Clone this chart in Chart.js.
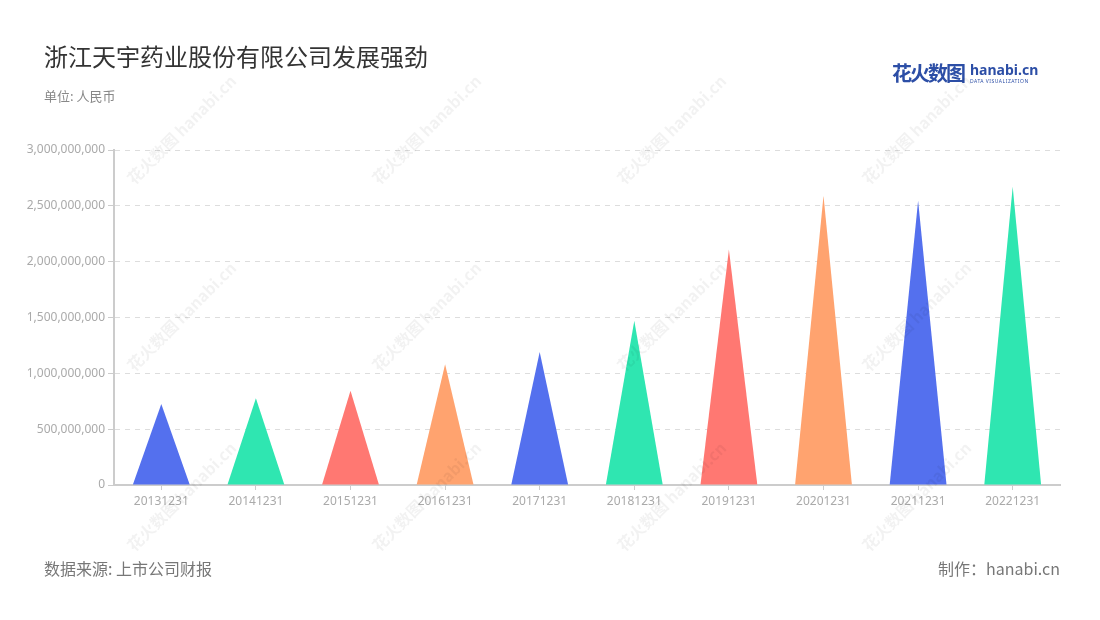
<!DOCTYPE html>
<html>
<head>
<meta charset="utf-8">
<script src="https://cdn.jsdelivr.net/npm/chart.js@4/dist/chart.umd.min.js"></script>
<style>
  body { margin: 0; background: #fff; font-family: "Noto Sans", "Noto Sans CJK SC", sans-serif; }
  #wrap { position: relative; width: 1100px; height: 620px; overflow: hidden; }
  #chart { position: absolute; left: 0; top: 0; }
  .title { position: absolute; left: 44px; top: 38px; font-size: 24px; color: #333; font-family: "Noto Sans CJK SC", sans-serif; }
  .unit { position: absolute; left: 44px; top: 86px; font-size: 13px; color: #888; font-family: "Noto Sans CJK SC", sans-serif; }
  .source { position: absolute; left: 44px; top: 556px; font-size: 16px; color: #777; font-family: "Noto Sans CJK SC", sans-serif; }
  .maker { position: absolute; right: 40px; top: 556px; font-size: 16px; color: #777; font-family: "Noto Sans CJK SC", sans-serif; }
  .logo { position: absolute; left: 892px; top: 58px; color: #2c4ea6; }
  .logo .cn { font-size: 20px; font-weight: bold; font-family: "Noto Sans CJK SC", sans-serif; letter-spacing: -2px; }
  .logo .en { position: absolute; left: 78px; top: 2px; font-size: 14px; font-weight: bold; font-family: "Noto Sans", sans-serif; }
  .logo .sub { position: absolute; left: 78px; top: 20px; font-size: 5px; letter-spacing: 0.5px; white-space: nowrap; font-family: "Noto Sans", sans-serif; }
  .wm { position: absolute; transform: rotate(-45deg); color: #000; opacity: 0.05; font-weight: bold; font-size: 16px; white-space: nowrap; pointer-events: none; font-family: "Noto Sans CJK SC", sans-serif; }
</style>
</head>
<body>
<div id="wrap">
  <canvas id="chart" width="1100" height="620"></canvas>
  <div class="title">浙江天宇药业股份有限公司发展强劲</div>
  <div class="unit">单位: 人民币</div>
  <div class="logo"><span class="cn">花火数图</span><span class="en">hanabi.cn</span><span class="sub">DATA VISUALIZATION</span></div>
  <div class="source">数据来源: 上市公司财报</div>
  <div class="maker">制作：hanabi.cn</div>
</div>
<script>
// 数据
const periods = ['20131231', '20141231', '20151231', '20161231', '20171231',
                 '20181231', '20191231', '20201231', '20211231', '20221231'];
const values = [725000000, 776000000, 845000000, 1081000000, 1191000000,
                1471000000, 2110000000, 2591000000, 2546000000, 2672000000];
const palette = ['#5470EE', '#2FE6B1', '#FF7872', '#FFA36F'];

// watermarks
const wrap = document.getElementById('wrap');
[128, 315, 495].forEach(cy => {
    [180, 425, 670, 915].forEach(cx => {
        const w = document.createElement('div');
        w.className = 'wm';
        w.textContent = '花火数图 hanabi.cn';
        w.style.left = (cx - 72) + 'px';
        w.style.top = (cy - 11) + 'px';
        wrap.appendChild(w);
    });
});

// 三角形柱子
const trianglePlugin = {
    id: 'triangleBars',
    beforeDatasetDraw(chart, args) {
        const ctx = chart.ctx;
        args.meta.data.forEach(bar => {
            const p = bar.getProps(['x', 'y', 'base', 'width'], true);
            ctx.save();
            ctx.beginPath();
            ctx.moveTo(p.x - p.width / 2, p.base);
            ctx.lineTo(p.x, p.y);
            ctx.lineTo(p.x + p.width / 2, p.base);
            ctx.closePath();
            ctx.fillStyle = bar.options.backgroundColor;
            ctx.fill();
            ctx.restore();
        });
        return false;
    }
};

new Chart(document.getElementById('chart'), {
    type: 'bar',
    data: {
        labels: periods,
        datasets: [{
            data: values,
            backgroundColor: values.map((v, i) => palette[i % palette.length]),
            categoryPercentage: 1,
            barPercentage: 0.6
        }]
    },
    options: {
        responsive: false,
        animation: false,
        layout: { padding: { top: 150, right: 40, bottom: 95, left: 0 } },
        plugins: { legend: { display: false }, tooltip: { enabled: false } },
        scales: {
            x: {
                afterFit: (s) => { s.height = 40; },
                grid: { offset: false, drawOnChartArea: false, drawTicks: true, tickLength: 5, tickColor: '#ccc' },
                border: { display: true, color: '#ccc', width: 2 },
                ticks: { color: '#aaa', font: { size: 12, family: 'Noto Sans' }, padding: 4, maxRotation: 0 }
            },
            y: {
                min: 0,
                max: 3000000000,
                afterFit: (s) => { s.width = 114; },
                grid: { color: '#ddd', tickBorderDash: [], tickColor: '#ccc', tickLength: 6 },
                border: { display: true, color: '#ccc', width: 2, dash: [5, 5] },
                ticks: {
                    stepSize: 500000000,
                    color: '#aaa',
                    font: { size: 12, family: 'Noto Sans' },
                    padding: 3,
                    callback: (val) => val.toLocaleString('en-US')
                }
            }
        }
    },
    plugins: [trianglePlugin]
});
</script>
</body>
</html>
